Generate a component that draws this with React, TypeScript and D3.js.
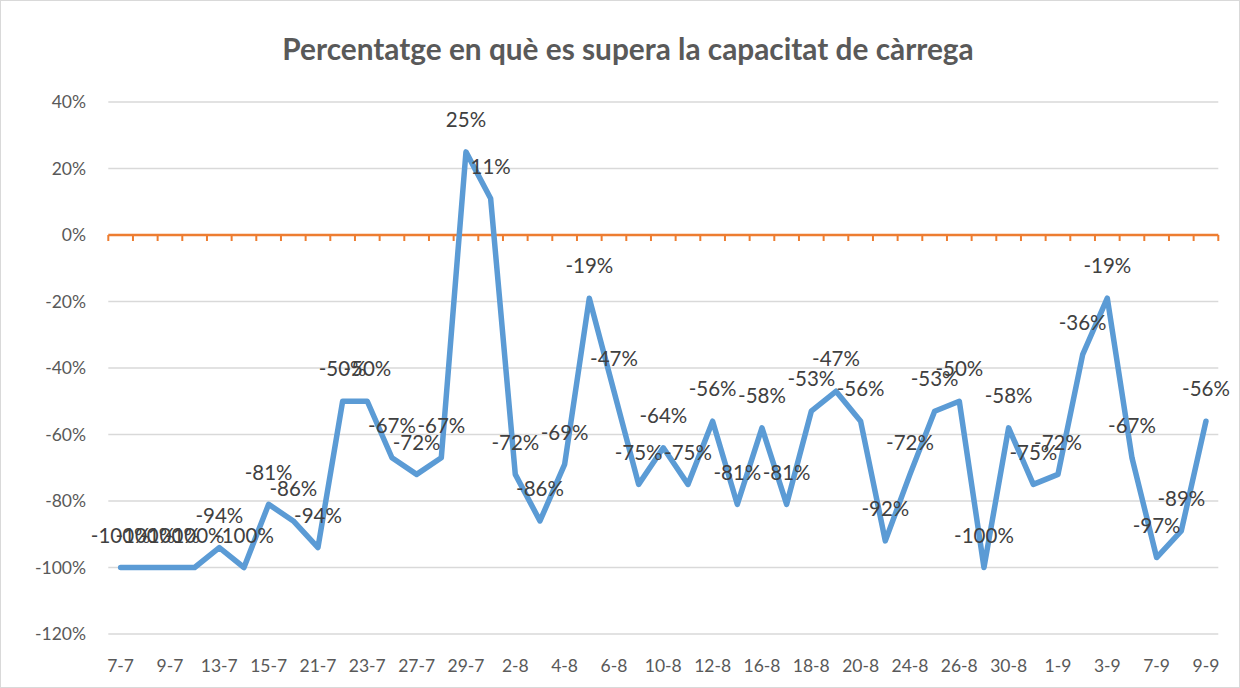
import React from "react";
import * as d3 from "d3";

const categories = [
  "7-7","8-7","9-7","10-7","13-7","14-7","15-7","16-7","21-7","22-7","23-7","24-7","27-7","28-7","29-7","30-7",
  "2-8","3-8","4-8","5-8","6-8","7-8","10-8","11-8","12-8","13-8","16-8","17-8","18-8","19-8","20-8","21-8",
  "24-8","25-8","26-8","27-8","30-8","31-8","1-9","2-9","3-9","4-9","7-9","8-9","9-9"
];
const values = [
  -100,-100,-100,-100,-94,-100,-81,-86,-94,-50,-50,-67,-72,-67,25,11,
  -72,-86,-69,-19,-47,-75,-64,-75,-56,-81,-58,-81,-53,-47,-56,-92,
  -72,-53,-50,-100,-58,-75,-72,-36,-19,-67,-97,-89,-56
];
const yTicks = [40, 20, 0, -20, -40, -60, -80, -100, -120];
const title = "Percentatge en què es supera la capacitat de càrrega";

export default function App() {
  const W = 1240, H = 688;
  const left = 108.3, right = 1218.3, top = 102, bottom = 634;
  const x = d3.scaleBand<number>().domain(d3.range(categories.length)).range([left, right]);
  const y = d3.scaleLinear().domain([-120, 40]).range([bottom, top]);
  const cx = (i: number) => (x(i) as number) + x.bandwidth() / 2;
  const line = d3.line<number>().x((_, i) => cx(i)).y((d) => y(d));
  const font = "Lato, 'Open Sans', sans-serif";
  const boundaries = d3.range(categories.length + 1).map((i) => left + i * x.step());
  return (
    <svg width={W} height={H} style={{ position: "absolute", left: 0, top: 0, background: "#fff" }}>
      <rect x={0.5} y={0.5} width={W - 1} height={H - 1} fill="#fff" stroke="#D9D9D9" />
      <text x={628} y={60} textAnchor="middle" fontFamily={font} fontWeight="bold" fontSize={29.8} fill="#595959">{title}</text>
      {yTicks.map((t) => (
        <g key={t}>
          {t !== 0 && <line x1={left} x2={right} y1={y(t)} y2={y(t)} stroke="#D9D9D9" strokeWidth={1.3} />}
          <text x={86} y={y(t)} dy="0.35em" textAnchor="end" fontFamily={font} fontSize={17.5} fill="#595959">{t}%</text>
        </g>
      ))}
      <line x1={left} x2={right} y1={y(0)} y2={y(0)} stroke="#ED7D31" strokeWidth={2.5} />
      {boundaries.map((b, i) => (
        <line key={i} x1={b} x2={b} y1={y(0)} y2={y(0) + 6} stroke="#ED7D31" strokeWidth={2} />
      ))}
      {categories.map((c, i) => i % 2 === 0 ? (
        <text key={c} x={cx(i)} y={672} textAnchor="middle" fontFamily={font} fontSize={17.5} fill="#595959">{c}</text>
      ) : null)}
      <path d={line(values) || ""} fill="none" stroke="#5B9BD5" strokeWidth={5.5} strokeLinejoin="round" strokeLinecap="round" />
      {values.map((v, i) => (
        <text key={i} x={cx(i)} y={y(v) - 32} dy="0.35em" textAnchor="middle" fontFamily={font} fontSize={20.5} fill="#404040">{v}%</text>
      ))}
    </svg>
  );
}
